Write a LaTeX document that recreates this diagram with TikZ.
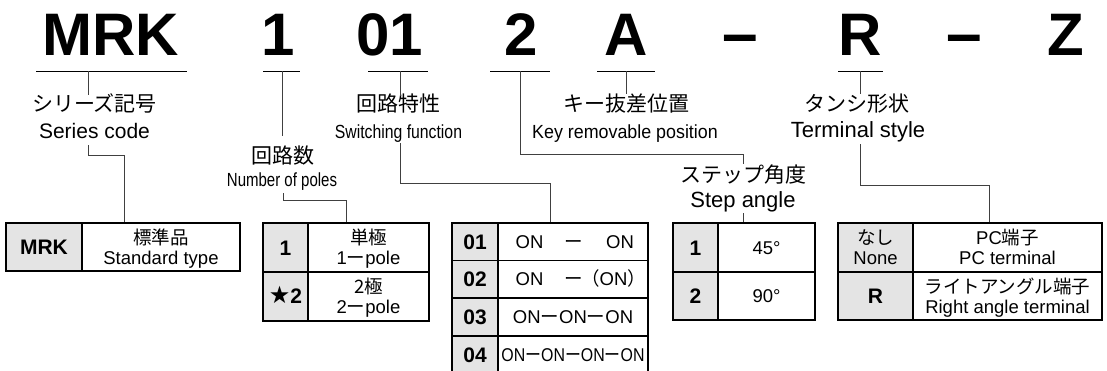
\documentclass[tikz,border=0pt]{standalone}
\usepackage{fontspec}
\usepackage{graphicx}
\setmainfont{Liberation Sans}
\newfontfamily\cjk{Noto Sans CJK JP}
\newfontfamily\symf{DejaVu Sans}
\newcommand\fsz[1]{\fontsize{#1}{#1}\selectfont}
\definecolor{cellgray}{HTML}{E4E4E4}
\definecolor{linegray}{HTML}{404040}
\begin{document}
\begin{tikzpicture}[x=1pt,y=-1pt,
  big/.style={inner sep=0pt,anchor=base,font=\fsz{60}\bfseries},
  jl/.style={inner sep=0pt,anchor=base,font=\fsz{21}\cjk},
  el/.style={inner sep=0pt,anchor=base,font=\fsz{21}},
  en/.style={inner sep=0pt,anchor=base,font=\fsz{19}},
  tj/.style={inner sep=0pt,anchor=base,font=\fsz{18.5}\cjk},
  te/.style={inner sep=0pt,anchor=base,font=\fsz{18.5}},
  tb/.style={inner sep=0pt,anchor=base,font=\fsz{21}\bfseries},
  uline/.style={line width=1pt},
  conn/.style={line width=0.9pt,draw=linegray},
  cellg/.style={fill=cellgray,draw=black,line width=1.4pt},
  cellw/.style={draw=black,line width=1.4pt},
]
\clip (0,0) rectangle (1107,370);
\fill[white] (0,0) rectangle (1107,370);

% ---------- big code letters ----------
\node[big] (cMRK) at (111,55) {MRK};
\node[big] (c1) at (278,55) {1};
\node[big] (c01) at (390,55) {01};
\node[big] (c2) at (521,55) {2};
\node[big] (cA) at (626,55) {A};
\node[big,font=\fsz{64}\bfseries] (cd1) at (740.5,55) {–};
\node[big] (cR) at (860,55) {R};
\node[big,font=\fsz{64}\bfseries] (cd2) at (964.5,55) {–};
\node[big] (cZ) at (1065.5,55) {Z};

% underlines
\draw[uline] (36,71) -- (187,71);
\draw[uline] (263,71) -- (300,71);
\draw[uline] (368,71) -- (428,71);
\draw[uline] (490,71) -- (550,71);
\draw[uline] (597,71) -- (655,71);
\draw[uline] (838,71) -- (883,71);

% ---------- labels ----------
\node[jl] (serJ) at (94.5,111.5) {シリーズ記号};
\node[el] (serE) at (94.5,138.5) {Series code};
\node[jl] (polJ) at (282.5,163) {回路数};
\node[en] (polE) at (282,186.5) {\scalebox{0.79}[1]{Number of poles}};
\node[jl] (fnJ) at (398,111.5) {回路特性};
\node[en] (fnE) at (398.5,138.5) {\scalebox{0.83}[1]{Switching function}};
\node[jl] (keyJ) at (626,111.5) {キー抜差位置};
\node[en] (keyE) at (625,138.5) {\scalebox{0.94}[1]{Key removable position}};
\node[jl] (stJ) at (743,182) {ステップ角度};
\node[el,font=\fsz{22}] (stE) at (743,207) {Step angle};
\node[jl] (trJ) at (857,111.5) {タンシ形状};
\node[el,font=\fsz{22}] (trE) at (858,137) {Terminal style};

% ---------- connector points ----------
\coordinate (mA) at (88,71);   \coordinate (mB) at (88,95);
\coordinate (mC) at (88,145);  \coordinate (mD) at (88,155);
\coordinate (mE) at (124,155); \coordinate (mF) at (124,223);
\coordinate (pA) at (282,71);  \coordinate (pB) at (282,136);
\coordinate (pC) at (283,193); \coordinate (pD) at (283,200);
\coordinate (pE) at (346,200); \coordinate (pF) at (346,223);
\coordinate (fA) at (400,71);  \coordinate (fB) at (400,96);
\coordinate (fC) at (400,143); \coordinate (fD) at (400,183);
\coordinate (fE) at (550,183); \coordinate (fF) at (550,223);
\coordinate (sA) at (520,71);  \coordinate (sB) at (520,154);
\coordinate (sC) at (743,154); \coordinate (sD) at (743,164);
\coordinate (sE) at (743,213); \coordinate (sF) at (743,223);
\coordinate (kA) at (626,71);  \coordinate (kB) at (626,94);
\coordinate (tA) at (860,71);  \coordinate (tB) at (860,94);
\coordinate (tC) at (860,144); \coordinate (tD) at (860,185);
\coordinate (tE) at (989,185); \coordinate (tF) at (989,223);

\draw[conn] (mA) -- (mB);
\draw[conn] (mC) -- (mD) -- (mE) -- (mF);
\draw[conn] (pA) -- (pB);
\draw[conn] (pC) -- (pD) -- (pE) -- (pF);
\draw[conn] (fA) -- (fB);
\draw[conn] (fC) -- (fD) -- (fE) -- (fF);
\draw[conn] (sA) -- (sB) -- (sC) -- (sD);
\draw[conn] (sE) -- (sF);
\draw[conn] (kA) -- (kB);
\draw[conn] (tA) -- (tB);
\draw[conn] (tC) -- (tD) -- (tE) -- (tF);

% ---------- table: series ----------
\draw[cellg] (6,223) rectangle (82,271);
\draw[cellw] (82,223) rectangle (240,271);
\node[tb] (mrkK) at (44,254.5) {MRK};
\node[tj] (mrkJ) at (161,244.5) {標準品};
\node[te] (mrkE) at (161,264) {Standard type};

% ---------- table: poles ----------
\draw[cellg] (263,223) rectangle (308,272);
\draw[cellw] (308,223) rectangle (429,272);
\draw[cellg] (263,272) rectangle (308,321);
\draw[cellw] (308,272) rectangle (429,321);
\node[tb] (p1K) at (285.5,255) {1};
\node[tb] (p2K) at (285.5,303.5) {{\symf\fsz{24}★}2};
\node[tj] (p1J) at (368.5,244.5) {単極};
\node[te] (p1E) at (368.5,264) {1{\cjk ー}pole};
\node[tj] (p2J) at (368.5,293.5) {2極};
\node[te] (p2E) at (368.5,313) {2{\cjk ー}pole};

% ---------- table: switching function ----------
\draw[cellg] (452,223) rectangle (498,260.5);
\draw[cellw] (498,223) rectangle (648,260.5);
\draw[cellg] (452,260.5) rectangle (498,298);
\draw[cellw] (498,260.5) rectangle (648,298);
\draw[cellg] (452,298) rectangle (498,336);
\draw[cellw] (498,298) rectangle (648,336);
\draw[cellg] (452,336) rectangle (498,373.5);
\draw[cellw] (498,336) rectangle (648,373.5);
\node[tb] (f1K) at (475,249.3) {01};
\node[tb] (f2K) at (475,286.8) {02};
\node[tb] (f3K) at (475,324.5) {03};
\node[tb] (f4K) at (475,362.3) {04};
\node[te] (f1a) at (529.5,248.4) {ON};
\node[te] (f1b) at (574,248.4) {\cjk ー};
\node[te] (f1c) at (620,248.4) {ON};
\node[te] (f2a) at (529.5,285.9) {ON};
\node[te] (f2b) at (574,285.9) {\cjk ー};
\node[te] (f2c) at (613.5,285.9) {{\cjk （}ON{\cjk ）}};
\node[te] (f3) at (573,323.6) {ON{\cjk ー}ON{\cjk ー}ON};
\node[te] (f4) at (573,361.4) {\scalebox{0.86}[1]{ON{\cjk ー}ON{\cjk ー}ON{\cjk ー}ON}};

% ---------- table: step angle ----------
\draw[cellg] (673,223) rectangle (718,272);
\draw[cellw] (718,223) rectangle (815,272);
\draw[cellg] (673,272) rectangle (718,320);
\draw[cellw] (718,272) rectangle (815,320);
\node[tb] (s1K) at (695.5,255) {1};
\node[tb] (s2K) at (695.5,303.5) {2};
\node[te] (s1V) at (766.5,254) {45°};
\node[te] (s2V) at (766.5,302.5) {90°};

% ---------- table: terminal style ----------
\draw[cellg] (838,223) rectangle (913,272);
\draw[cellw] (913,223) rectangle (1102,272);
\draw[cellg] (838,272) rectangle (913,320);
\draw[cellw] (913,272) rectangle (1102,320);
\node[tj] (t1J) at (875.5,244.5) {なし};
\node[te] (t1E) at (875.5,264) {None};
\node[tb] (t2K) at (875.5,303.5) {R};
\node[te] (t1a) at (1007.5,244.5) {PC{\cjk 端子}};
\node[te] (t1b) at (1007.5,264) {PC terminal};
\node[tj] (t2a) at (1007.5,293.5) {ライトアングル端子};
\node[te] (t2b) at (1007.5,313) {Right angle terminal};
\end{tikzpicture}
\end{document}
